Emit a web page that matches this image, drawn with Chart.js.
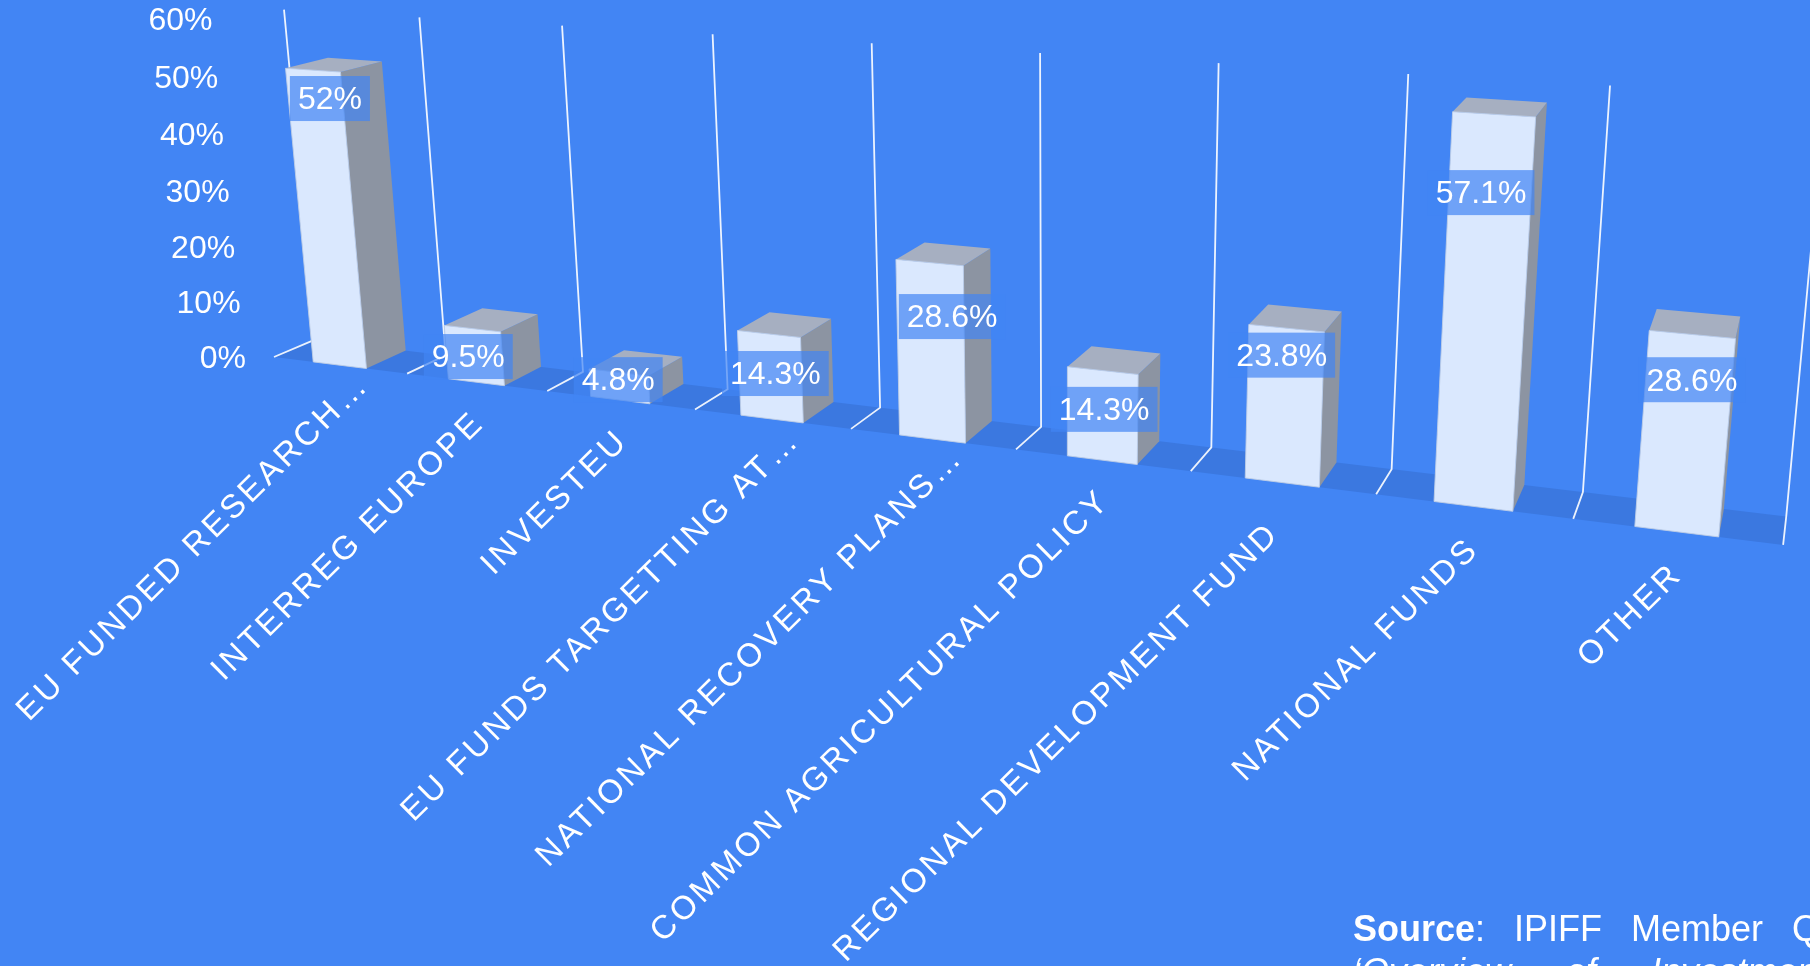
<!DOCTYPE html>
<html>
<head>
<meta charset="utf-8">
<title>Funding sources</title>
<script src="https://cdn.jsdelivr.net/npm/chart.js@4"></script>
<style>
  html, body { margin: 0; height: 100%; overflow: hidden; background: #4285f4; }
  #stage { position: relative; width: 1810px; height: 966px; overflow: hidden; }
  .source {
    position: absolute; left: 1353px; color: #fff; white-space: nowrap;
    font: 36px "Liberation Sans", Arial, sans-serif;
  }
</style>
</head>
<body>
<div id="stage">
  <canvas id="chart" width="1810" height="966"></canvas>
  <div class="source" style="top:908px;word-spacing:19px"><b>Source</b>: IPIFF Member Questionnaire</div>
  <div class="source" style="top:951px;word-spacing:45px"><i>‘Overview of Investment</i></div>
</div>
<script>
// Data
const categories = [
  'EU FUNDED RESEARCH…', 'INTERREG EUROPE', 'INVESTEU', 'EU FUNDS TARGETTING AT…',
  'NATIONAL RECOVERY PLANS…', 'COMMON AGRICULTURAL POLICY', 'REGIONAL DEVELOPMENT FUND',
  'NATIONAL FUNDS', 'OTHER'
];
const shares = [52, 9.5, 4.8, 14.3, 28.6, 14.3, 23.8, 57.1, 28.6];
const yTickLabels = ['0%', '10%', '20%', '30%', '40%', '50%', '60%'];

// where each value label sits, in axis units and in fractions of a category
const labelHeights = [46.5, 3.1, 2.2, 6.5, 19.2, 6.9, 18.5, 45.2, 21.1];
const labelAcross = [0.51, 0.37, 0.42, 0.47, 0.58, 0.47, 0.45, 0.44, 0.51];
// how far each category label slides along its own direction, px
const categorySlide = [30, 0, 0, 28, 32, 0, -15, -3, -3];

const FONT = '"Liberation Sans", Arial, sans-serif';

// Camera: u = category position, h = share of axis height, w = depth (0 front, 1 back)
function project(u, h, w) {
  const d = 1 - 0.02513 * u - 0.04082 * h + 0.0262 * w;
  return {
    x: (274 + 122.87 * u - 43.35 * h + 49.2 * w) / d,
    y: (357 + 7.19 * u - 339 * h - 8.45 * w) / d
  };
}

function toU(chart, px) {
  const xs = chart.scales.x;
  return (px - xs.left) / xs.width * xs.getLabels().length;
}

function toH(chart, py) {
  const ys = chart.scales.y;
  return (ys.bottom - py) / ys.height;
}

function poly(ctx, pts, fill, stroke) {
  ctx.beginPath();
  pts.forEach((p, i) => i ? ctx.lineTo(p.x, p.y) : ctx.moveTo(p.x, p.y));
  ctx.closePath();
  ctx.fillStyle = fill;
  ctx.fill();
  if (stroke) {
    ctx.strokeStyle = stroke;
    ctx.lineWidth = 1;
    ctx.stroke();
  }
}

// Bars keep Chart.js geometry, only the drawing goes through the camera
class Bar3dController extends Chart.BarController {
  draw() {
    const chart = this.chart, ctx = chart.ctx;
    this.getMeta().data.forEach(bar => {
      const u0 = toU(chart, bar.x - bar.width / 2);
      const u1 = toU(chart, bar.x + bar.width / 2);
      const h = toH(chart, bar.y);
      poly(ctx, [project(u1, 0, 0), project(u1, 0, 1), project(u1, h, 1), project(u1, h, 0)], '#8c94a2');
      poly(ctx, [project(u0, h, 0), project(u1, h, 0), project(u1, h, 1), project(u0, h, 1)], '#a6afc1');
      poly(ctx, [project(u0, 0, 0), project(u1, 0, 0), project(u1, h, 0), project(u0, h, 0)],
        '#dae8fe', 'rgba(190,205,230,0.9)');
    });
  }
}
Bar3dController.id = 'bar3d';
Bar3dController.defaults = Chart.BarController.defaults;
Chart.register(Bar3dController);

const perspectivePlugin = {
  id: 'perspective',
  beforeDatasetsDraw(chart) {
    const ctx = chart.ctx, n = categories.length;
    // floor
    poly(ctx, [project(0, 0, 0), project(n, 0, 0), project(n, 0, 1), project(0, 0, 1)], '#3b78e0');
    // grid lines between categories
    ctx.strokeStyle = 'rgba(255,255,255,0.9)';
    ctx.lineWidth = 1.8;
    for (let i = 0; i <= n; i++) {
      const f = project(i, 0, 0), b = project(i, 0, 1), t = project(i, 1, 1);
      ctx.beginPath();
      ctx.moveTo(f.x, f.y);
      ctx.lineTo(b.x, b.y);
      ctx.lineTo(t.x, t.y);
      ctx.stroke();
    }
  },
  afterDatasetsDraw(chart) {
    const ctx = chart.ctx, xs = chart.scales.x, ys = chart.scales.y;
    ctx.save();
    ctx.fillStyle = '#fff';

    // y axis labels
    ctx.font = `32px ${FONT}`;
    ctx.textAlign = 'right';
    ctx.textBaseline = 'middle';
    ys.ticks.forEach(tick => {
      const p = project(0, toH(chart, ys.getPixelForValue(tick.value)), 0);
      ctx.fillText(tick.label, p.x - 28, p.y + 2);
    });

    // category labels
    ctx.font = `33px ${FONT}`;
    ctx.letterSpacing = '3.2px';
    categories.forEach((name, i) => {
      const p = project(toU(chart, xs.getPixelForValue(i)), 0, 0);
      ctx.save();
      ctx.translate(p.x + 3, p.y + 36);
      ctx.rotate(-44.5 * Math.PI / 180);
      ctx.fillText(name, categorySlide[i], 0);
      ctx.restore();
    });
    ctx.letterSpacing = '0px';

    // value labels
    ctx.font = `32px ${FONT}`;
    ctx.textAlign = 'center';
    shares.forEach((v, i) => {
      const p = project(i + labelAcross[i], toH(chart, ys.getPixelForValue(labelHeights[i])), 0.3);
      const text = v + '%';
      const w = ctx.measureText(text).width + 16;
      ctx.fillStyle = 'rgba(66,133,244,0.7)';
      ctx.fillRect(p.x - w / 2, p.y - 23, w, 45);
      ctx.fillStyle = '#fff';
      ctx.fillText(text, p.x, p.y + 1.5);
    });
    ctx.restore();
  }
};

new Chart(document.getElementById('chart'), {
  type: 'bar3d',
  data: {
    labels: categories,
    datasets: [{
      data: shares,
      backgroundColor: '#dae8fe',
      barPercentage: 0.5,
      categoryPercentage: 0.8
    }]
  },
  options: {
    responsive: false,
    animation: false,
    plugins: { legend: { display: false }, tooltip: { enabled: false } },
    scales: {
      x: {
        grid: { display: false },
        border: { display: false },
        ticks: { display: false }
      },
      y: {
        min: 0,
        max: 60,
        grid: { display: false },
        border: { display: false },
        ticks: { display: false, stepSize: 10, callback: (v, i) => yTickLabels[i] }
      }
    }
  },
  plugins: [perspectivePlugin]
});
</script>
</body>
</html>
